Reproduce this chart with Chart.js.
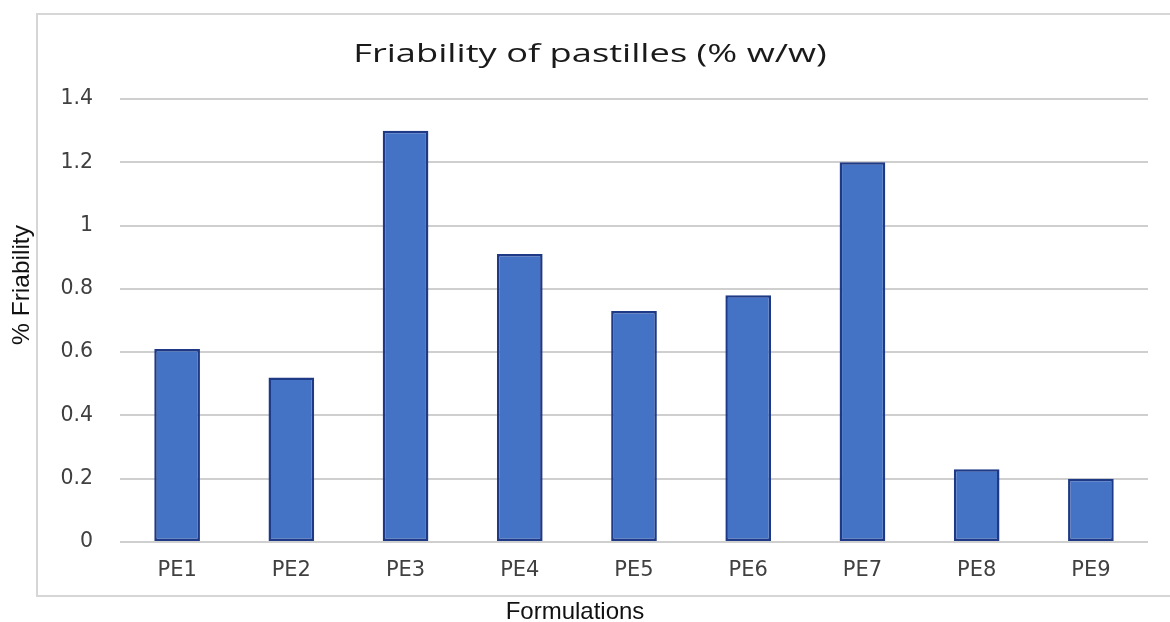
<!DOCTYPE html>
<html>
<head>
<meta charset="utf-8">
<script src="https://cdn.jsdelivr.net/npm/chart.js@4.4.1/dist/chart.umd.min.js"></script>
<style>
  html, body { margin: 0; padding: 0; background: #ffffff; }
  #wrap { width: 1170px; height: 622px; position: relative; }
</style>
</head>
<body>
<div id="wrap"><canvas id="c" width="1170" height="622"></canvas></div>
<script>
// Friability results per pastille formulation
const formulations = ['PE1', 'PE2', 'PE3', 'PE4', 'PE5', 'PE6', 'PE7', 'PE8', 'PE9'];
const friability = [0.61, 0.52, 1.3, 0.91, 0.73, 0.78, 1.2, 0.23, 0.2];
const chartTitle = 'Friability of pastilles (% w/w)';
const yAxisTitle = '% Friability';
const xAxisTitle = 'Formulations';

// Light frame around the plot, like a spreadsheet chart object
const framePlugin = {
  id: 'frame',
  beforeDraw(chart) {
    const ctx = chart.ctx;
    ctx.save();
    ctx.strokeStyle = '#d6d6d6';
    ctx.lineWidth = 2;
    ctx.strokeRect(37, 14, 1160, 582);
    ctx.restore();
  }
};

// Heading and axis captions, placed where the spreadsheet layout puts them
const captionPlugin = {
  id: 'captions',
  afterDraw(chart) {
    const ctx = chart.ctx;

    // wide heading
    ctx.save();
    const sx = 1.45;
    ctx.scale(sx, 1);
    ctx.font = '25px "Open Sans"';
    ctx.fillStyle = '#1a1a1a';
    ctx.textAlign = 'center';
    ctx.textBaseline = 'alphabetic';
    ctx.fillText(chartTitle, 590 / sx, 62);
    ctx.restore();

    // x axis caption
    ctx.save();
    ctx.font = '24px "Liberation Sans"';
    ctx.fillStyle = '#111111';
    ctx.textAlign = 'center';
    ctx.textBaseline = 'alphabetic';
    ctx.fillText(xAxisTitle, 575, 619);
    ctx.restore();

    // y axis caption, rotated
    ctx.save();
    ctx.translate(29, 285);
    ctx.rotate(-Math.PI / 2);
    ctx.font = '24.5px "Liberation Sans"';
    ctx.fillStyle = '#111111';
    ctx.textAlign = 'center';
    ctx.textBaseline = 'alphabetic';
    ctx.fillText(yAxisTitle, 0, 0);
    ctx.restore();
  }
};

new Chart(document.getElementById('c'), {
  type: 'bar',
  data: {
    labels: formulations,
    datasets: [{
      data: friability,
      backgroundColor: '#4472C4',
      borderColor: '#1E3A87',
      borderWidth: 2.5,
      borderSkipped: false,
      categoryPercentage: 1,
      barPercentage: 0.4
    }]
  },
  options: {
    responsive: false,
    animation: false,
    layout: { padding: { top: 99, right: 22, bottom: 0, left: 0 } },
    plugins: {
      legend: { display: false },
      tooltip: { enabled: false },
      title: { display: false }
    },
    scales: {
      x: {
        grid: { display: false, drawTicks: false },
        border: { display: false },
        ticks: {
          color: '#404040',
          font: { family: '"DejaVu Sans"', size: 21 },
          padding: 16,
          maxRotation: 0
        },
        afterFit(scale) { scale.height = 80; }
      },
      y: {
        min: 0,
        max: 1.4,
        ticks: {
          stepSize: 0.2,
          color: '#404040',
          font: { family: '"DejaVu Sans"', size: 20.5 },
          padding: 27,
          callback: (v) => Number(v.toFixed(1)).toString()
        },
        grid: { color: '#cfcfcf', lineWidth: 2, drawTicks: false },
        border: { display: false },
        afterFit(scale) { scale.width = 120; }
      }
    }
  },
  plugins: [framePlugin, captionPlugin]
});
</script>
</body>
</html>
